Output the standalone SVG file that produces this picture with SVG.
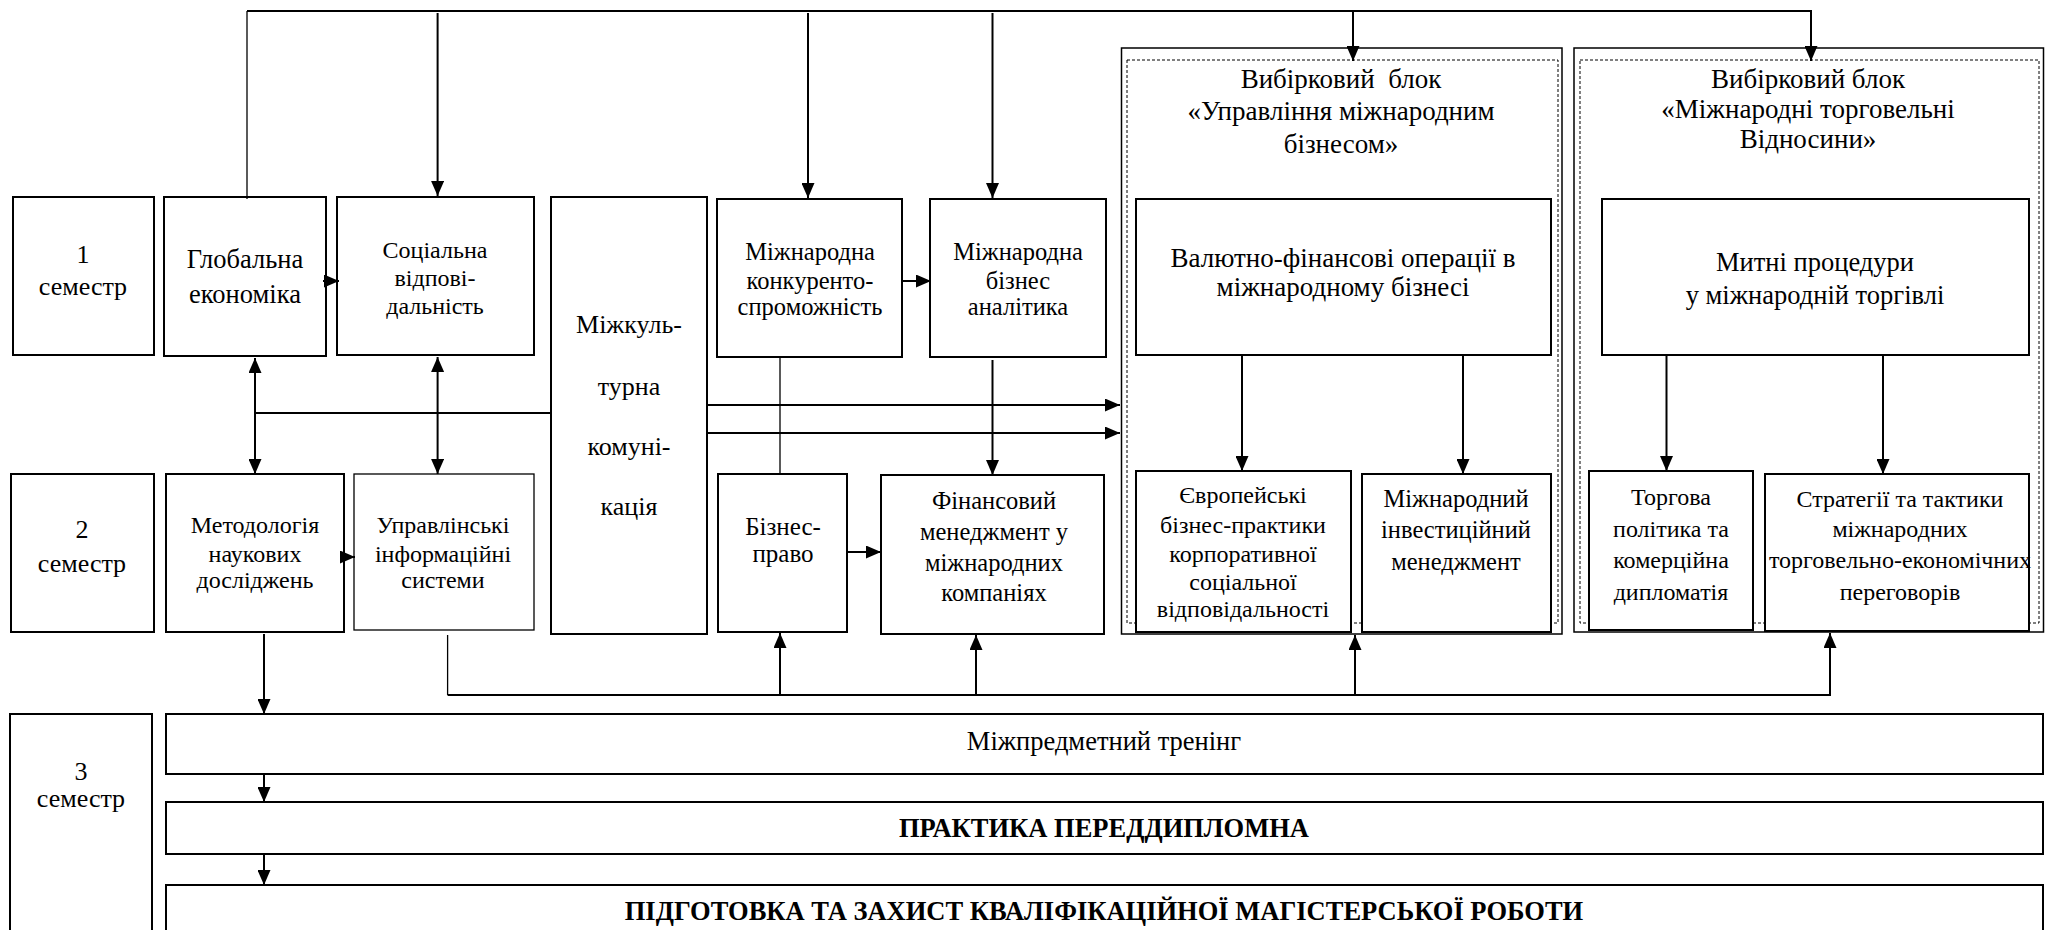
<svg xmlns="http://www.w3.org/2000/svg" width="2053" height="930" viewBox="0 0 2053 930">
<style>
.box{fill:#fff;stroke:#000;stroke-width:2}
.thinbox{fill:#fff;stroke:#000;stroke-width:1.3}
.blk{fill:none;stroke:#000;stroke-width:1.5}
.dash{fill:none;stroke:#000;stroke-width:1;stroke-dasharray:3 2}
text{font-family:"Liberation Serif","Times New Roman",serif;font-size:24px;text-anchor:middle;fill:#000}
.s26{font-size:26px}
.s265{font-size:26.5px}
.s27{font-size:27px}
.s245{font-size:24.5px}
.s25{font-size:25px}
.b{font-weight:bold}
.c{stroke:#000;stroke-width:2;fill:none}
.ct{stroke:#000;stroke-width:1.3;fill:none}
.a{marker-end:url(#ah)}
.aa{marker-start:url(#ah);marker-end:url(#ah)}
</style>
<defs>
<marker id="ah" markerUnits="userSpaceOnUse" markerWidth="16" markerHeight="13" refX="15" refY="6.5" orient="auto-start-reverse"><path d="M0,0 L15,6.5 L0,13 z" fill="#000"/></marker>
</defs>
<rect width="2053" height="930" fill="#fff"/>

<g id="block1">
<rect class="blk" x="1121.5" y="48" width="440.5" height="586"/>
<rect class="dash" x="1127" y="60" width="431" height="563"/>
<text class="s27" xml:space="preserve" x="1341" y="88">Вибірковий  блок</text>
<text class="s27" x="1341" y="120">«Управління міжнародним</text>
<text class="s27" x="1341" y="153">бізнесом»</text>
</g>
<g id="block2">
<rect class="blk" x="1574" y="48" width="469.5" height="584"/>
<rect class="dash" x="1580" y="60" width="459" height="563"/>
<text class="s27" x="1808" y="88">Вибірковий блок</text>
<text class="s27" x="1808" y="118">«Міжнародні торговельні</text>
<text class="s27" x="1808" y="148">Відносини»</text>
</g>

<g id="sem1"><rect class="box" x="13" y="197" width="141" height="158"/><text class="s26" x="83" y="263">1</text><text class="s26" x="83" y="295">семестр</text></g>
<g id="glob"><rect class="box" x="164" y="197" width="162" height="159"/><text class="s265" x="245" y="268">Глобальна</text><text class="s265" x="245" y="303">економіка</text></g>
<g id="soc"><rect class="box" x="337" y="197" width="197" height="158"/><text x="435" y="258">Соціальна</text><text x="435" y="286">відпові-</text><text x="435" y="314">дальність</text></g>
<g id="mizhkult"><rect class="box" x="551" y="197" width="156" height="437"/><text class="s26" x="629" y="333">Міжкуль-</text><text class="s26" x="629" y="395">турна</text><text class="s26" x="629" y="455">комуні-</text><text class="s26" x="629" y="515">кація</text></g>
<g id="konk"><rect class="box" x="717" y="199" width="185" height="158"/><text class="s245" x="810" y="260">Міжнародна</text><text class="s245" x="810" y="289">конкуренто-</text><text class="s245" x="810" y="315">спроможність</text></g>
<g id="anal"><rect class="box" x="930" y="199" width="176" height="158"/><text class="s245" x="1018" y="260">Міжнародна</text><text class="s245" x="1018" y="289">бізнес</text><text class="s245" x="1018" y="315">аналітика</text></g>
<g id="valut"><rect class="box" x="1136" y="199" width="415" height="156"/><text class="s27" x="1343" y="267">Валютно-фінансові операції в</text><text class="s27" x="1343" y="296">міжнародному бізнесі</text></g>
<g id="mytni"><rect class="box" x="1602" y="199" width="427" height="156"/><text class="s265" x="1815" y="271">Митні процедури</text><text class="s265" x="1815" y="304">у міжнародній торгівлі</text></g>

<g id="sem2"><rect class="box" x="11" y="474" width="143" height="158"/><text class="s26" x="82" y="538">2</text><text class="s26" x="82" y="572">семестр</text></g>
<g id="metod"><rect class="box" x="166" y="474" width="178" height="158"/><text x="255" y="533">Методологія</text><text x="255" y="562">наукових</text><text x="255" y="588">досліджень</text></g>
<g id="upr"><rect class="thinbox" x="354" y="474" width="180" height="156"/><text x="443" y="533">Управлінські</text><text x="443" y="562">інформаційні</text><text x="443" y="588">системи</text></g>
<g id="bizpr"><rect class="box" x="718" y="474" width="129" height="158"/><text class="s25" x="783" y="535">Бізнес-</text><text class="s25" x="783" y="562">право</text></g>
<g id="fin"><rect class="box" x="881" y="475" width="223" height="159"/><text class="s245" x="994" y="509">Фінансовий</text><text class="s245" x="994" y="540">менеджмент у</text><text class="s245" x="994" y="571">міжнародних</text><text class="s245" x="994" y="601">компаніях</text></g>
<g id="europ"><rect class="box" x="1136" y="471" width="215" height="161"/><text x="1243" y="503">Європейські</text><text x="1243" y="533">бізнес-практики</text><text x="1243" y="562">корпоративної</text><text x="1243" y="590">соціальної</text><text x="1243" y="617">відповідальності</text></g>
<g id="mizhinv"><rect class="box" x="1362" y="474" width="189" height="158"/><text class="s245" x="1456" y="507">Міжнародний</text><text class="s245" x="1456" y="538">інвестиційний</text><text class="s245" x="1456" y="570">менеджмент</text></g>
<g id="torg"><rect class="box" x="1589" y="471" width="164" height="159"/><text x="1671" y="505">Торгова</text><text x="1671" y="537">політика та</text><text x="1671" y="568">комерційна</text><text x="1671" y="600">дипломатія</text></g>
<g id="strat"><rect class="box" x="1765" y="474" width="264" height="157"/><text x="1900" y="507">Стратегії та тактики</text><text x="1900" y="537">міжнародних</text><text x="1900" y="568">торговельно-економічних</text><text x="1900" y="600">переговорів</text></g>

<g id="sem3"><rect class="box" x="10" y="714" width="142" height="230"/><text class="s26" x="81" y="780">3</text><text class="s26" x="81" y="807">семестр</text></g>
<g id="mizhpr"><rect class="box" x="166" y="714" width="1877" height="60"/><text class="s265" x="1104" y="750">Міжпредметний тренінг</text></g>
<g id="prakt"><rect class="box" x="166" y="802" width="1877" height="52"/><text class="b s265" x="1104" y="837">ПРАКТИКА ПЕРЕДДИПЛОМНА</text></g>
<g id="pidg"><rect class="box" x="166" y="885" width="1877" height="60"/><text class="b s265" x="1104" y="920">ПІДГОТОВКА ТА ЗАХИСТ КВАЛІФІКАЦІЙНОЇ МАГІСТЕРСЬКОЇ РОБОТИ</text></g>

<g id="connectors">
<path class="ct" d="M247,199 V11"/>
<path class="c a" d="M247,11 H1811 V61"/>
<path class="c a" d="M437.6,13 V196"/>
<path class="c a" d="M808,13 V198"/>
<path class="c a" d="M992.5,13 V198"/>
<path class="c a" d="M1353,11 V61"/>
<path class="c a" d="M323,281 H339"/>
<path class="c" d="M255,413 H551"/>
<path class="c aa" d="M255,358 V474"/>
<path class="c aa" d="M437.6,357 V474"/>
<path class="c a" d="M707,405 H1120"/>
<path class="c a" d="M707,433 H1120"/>
<path class="c a" d="M902,281 H931"/>
<path class="ct" d="M780,357 V474"/>
<path class="c a" d="M992.5,360 V475"/>
<path class="c a" d="M847,552 H881"/>
<path class="c a" d="M341,557 H355"/>
<path class="ct" d="M447.6,635 V695"/>
<path class="c a" d="M447.6,695 H1830 V633"/>
<path class="c a" d="M780,695 V633"/>
<path class="c a" d="M976,695 V635"/>
<path class="c a" d="M1355,695 V635"/>
<path class="c a" d="M1242,355 V471"/>
<path class="c a" d="M1463,355 V474"/>
<path class="c a" d="M1666.5,355 V471"/>
<path class="c a" d="M1883,355 V474"/>
<path class="c a" d="M264,634 V714"/>
<path class="c a" d="M264,774 V802"/>
<path class="c a" d="M264,854 V885"/>
</g>
</svg>
